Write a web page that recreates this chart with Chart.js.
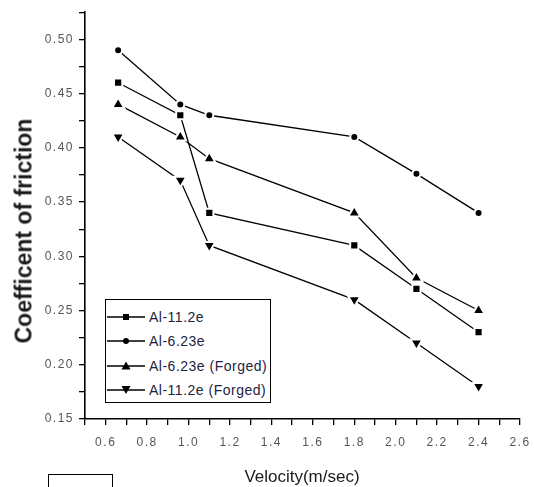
<!DOCTYPE html>
<html>
<head>
<meta charset="utf-8">
<script src="https://cdn.jsdelivr.net/npm/chart.js@4/dist/chart.umd.min.js"></script>
<style>
  html,body{margin:0;padding:0;background:#fff;}
  body{width:534px;height:487px;overflow:hidden;position:relative;font-family:"Liberation Sans",Arial,sans-serif;}
  #c{position:absolute;left:0;top:0;}
  #ytitle{position:absolute;left:24px;top:231px;transform:translate(-50%,-50%) rotate(-90deg);white-space:nowrap;
    font-weight:bold;font-size:23px;color:#1a1a1a;}
  #xtitle{position:absolute;left:302px;top:477px;transform:translate(-50%,-50%);white-space:nowrap;font-size:17px;color:#1a1a1a;}
  #legend{position:absolute;left:105px;top:299px;width:164px;height:102px;border:1.5px solid #000;background:#fff;}
  .row{position:absolute;left:0;height:20px;display:flex;align-items:center;}
  .row svg{margin-left:1px;}
  .row span{margin-left:4px;font-size:14px;letter-spacing:0.5px;color:#1f2340;}
  #box{position:absolute;left:48px;top:474px;width:63px;height:30px;border:1.5px solid #000;}
</style>
</head>
<body>
<canvas id="c" width="534" height="487"></canvas>
<div id="ytitle">Coefficent of friction</div>
<div id="xtitle">Velocity(m/sec)</div>
<div id="legend"></div>
<div id="box"></div>
<script>
// ---- data ----
const velocity = [0.66, 0.96, 1.1, 1.8, 2.1, 2.4];
const seriesNames = ["Al-11.2e", "Al-6.23e", "Al-6.23e (Forged)", "Al-11.2e (Forged)"];
const al112e      = [0.46, 0.43, 0.34, 0.31, 0.27, 0.23];
const al623e      = [0.49, 0.44, 0.43, 0.41, 0.376, 0.34];
const al623eForged = [0.44, 0.41, 0.39, 0.34, 0.28, 0.25];
const al112eForged = [0.41, 0.37, 0.31, 0.26, 0.22, 0.18];
const xTickLabels = ["0.6","0.8","1.0","1.2","1.4","1.6","1.8","2.0","2.2","2.4","2.6"];
const yTickLabels = ["0.15","0.20","0.25","0.30","0.35","0.40","0.45","0.50"];

const seriesValues = [al112e, al623e, al623eForged, al112eForged];
const styles = [
  {pointStyle:'rect', radius:5.8, rotation:0},
  {pointStyle:'circle', radius:4, rotation:0},
  {pointStyle:'triangle', radius:7, rotation:0},
  {pointStyle:'triangle', radius:7, rotation:180}
];

const datasets = seriesValues.map((vals, i) => ({
  label: seriesNames[i],
  data: velocity.map((v, j) => ({x: v, y: vals[j]})),
  borderColor: '#000',
  borderWidth: 1.3,
  pointStyle: styles[i].pointStyle,
  pointRotation: styles[i].rotation,
  pointRadius: styles[i].radius,
  pointBackgroundColor: '#000',
  pointBorderColor: '#fff',
  pointBorderWidth: 2,
  tension: 0,
  fill: false
}));

const lsPlugin = {
  id: 'ls',
  beforeDraw(c){ c.ctx.letterSpacing = '1.5px'; },
  afterDraw(c){ c.ctx.letterSpacing = '0px'; }
};

new Chart(document.getElementById('c'), {
  type: 'line',
  data: {datasets},
  plugins: [lsPlugin],
  options: {
    responsive: false,
    animation: false,
    devicePixelRatio: 1,
    layout: {padding: {top: 11, right: 0, bottom: 0, left: 0}},
    plugins: {legend: {display: false}, tooltip: {enabled: false}},
    scales: {
      x: {
        type: 'linear', min: 0.5, max: 2.6,
        afterFit(s){ s.height = 68; s.paddingRight = 14; s.paddingLeft = 0; },
        ticks: {
          stepSize: 0.1, autoSkip: false, maxRotation: 0, padding: 10,
          color: '#555', font: {family: '"Liberation Sans", Arial', size: 12},
          callback(v){ const s = Number(v).toFixed(1); return xTickLabels.includes(s) && Math.round(v*10)%2===0 ? s : ''; }
        },
        grid: {drawOnChartArea: false, drawTicks: true, tickLength: 6, color: '#000', lineWidth: 1.3},
        border: {display: true, color: '#000', width: 1.6}
      },
      y: {
        type: 'linear', min: 0.15, max: 0.525,
        afterFit(s){ s.width = 85; },
        ticks: {
          stepSize: 0.025, autoSkip: false, padding: 5,
          color: '#555', font: {family: '"Liberation Sans", Arial', size: 12},
          callback(v){ const s = Number(v).toFixed(2); return (Math.round(v*1000)%50===0 && yTickLabels.includes(s)) ? s : ''; }
        },
        grid: {drawOnChartArea: false, drawTicks: true, tickLength: 6, color: '#000', lineWidth: 1.3},
        border: {display: true, color: '#000', width: 1.6}
      }
    }
  }
});

// ---- HTML legend ----
const lg = document.getElementById('legend');
const markerSvg = [
  '<rect x="16" y="3" width="6" height="6" fill="#000"/>',
  '<circle cx="19" cy="6" r="3" fill="#000"/>',
  '<polygon points="19,1.5 23.5,9.5 14.5,9.5" fill="#000"/>',
  '<polygon points="14.5,2 23.5,2 19,10" fill="#000"/>'
];
seriesNames.forEach((n, i) => {
  const r = document.createElement('div');
  r.className = 'row';
  r.style.top = (7 + i * 24.3) + 'px';
  r.innerHTML = '<svg width="38" height="12"><line x1="0" y1="6" x2="38" y2="6" stroke="#000" stroke-width="1.3"/>' +
    markerSvg[i] + '</svg><span>' + n + '</span>';
  lg.appendChild(r);
});
</script>
</body>
</html>
